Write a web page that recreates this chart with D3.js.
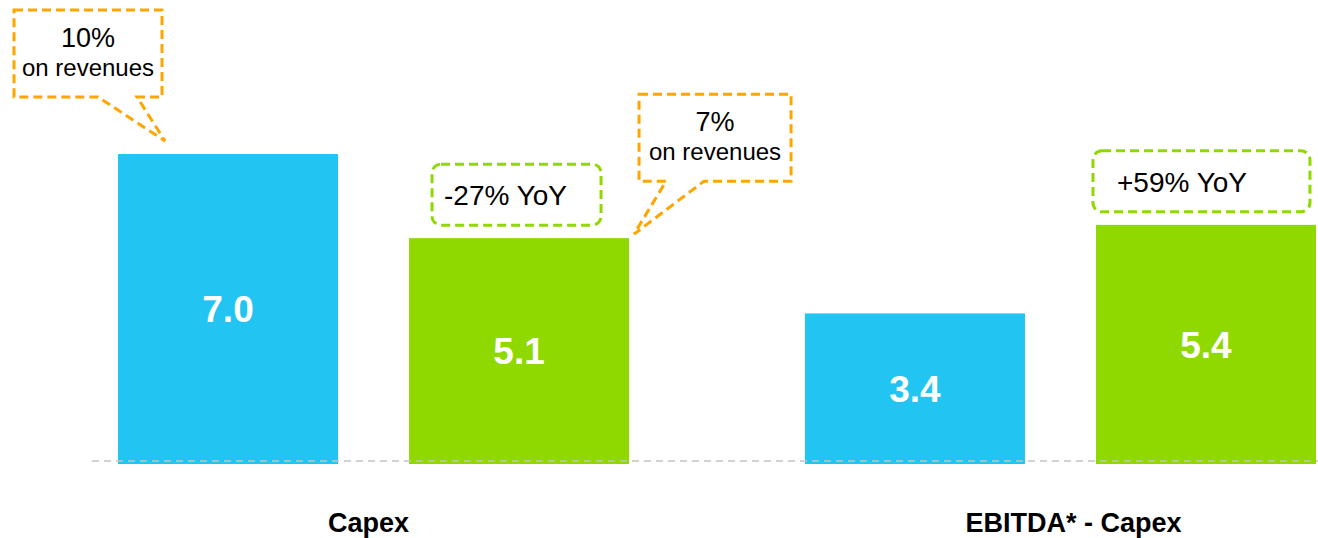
<!DOCTYPE html>
<html>
<head>
<meta charset="utf-8">
<script src="https://cdn.jsdelivr.net/npm/d3@7"></script>
<style>
  body { margin: 0; background: #fff; }
  text { font-family: "Liberation Sans", Arial, sans-serif; }
</style>
</head>
<body>
<div class="myBox"></div>
<script>
   var width = 1318;
   var height = 538;

   // data
   var categories = ["Capex", "EBITDA* - Capex"];
   var series = ["prev", "curr"];
   var prevValues = [7.0, 3.4];
   var currValues = [5.1, 5.4];
   var revenueShare = [["10%", "on revenues"], ["7%", "on revenues"]];
   var yoyLabels = ["-27% YoY", "+59% YoY"];

   var colors = { prev: "#22c4f2", curr: "#8fd900" };
   var orange = "#ffa500";

   var svg = d3.select(".myBox")
     .append("svg")
     .attr("width", width)
     .attr("height", height);

   var x0 = d3.scaleBand()
     .domain(categories)
     .range([118, 1316])
     .paddingInner(0.256);

   var x1 = d3.scaleBand()
     .domain(series)
     .range([0, x0.bandwidth()])
     .paddingInner(0.244);

   var y = d3.scaleLinear()
     .domain([0, 7])
     .range([464, 154]);

   var bars = [];
   categories.forEach(function(c, i) {
     bars.push({ cat: c, s: "prev", v: prevValues[i], i: i });
     bars.push({ cat: c, s: "curr", v: currValues[i], i: i });
   });
   function bx(d) { return x0(d.cat) + x1(d.s); }

   svg.selectAll("rect.bar")
     .data(bars)
     .enter().append("rect")
       .attr("class", "bar")
       .attr("x", bx)
       .attr("y", function(d) { return y(d.v); })
       .attr("width", x1.bandwidth())
       .attr("height", function(d) { return y(0) - y(d.v); })
       .style("fill", function(d) { return colors[d.s]; });

   // dashed baseline
   svg.append("line")
     .attr("x1", 92).attr("x2", width)
     .attr("y1", y(0) - 3).attr("y2", y(0) - 3)
     .style("stroke", "#c4c4c4")
     .style("stroke-width", 1.5)
     .style("stroke-dasharray", "7,5");

   svg.selectAll("text.val")
     .data(bars)
     .enter().append("text")
       .attr("class", "val")
       .attr("x", function(d) { return bx(d) + x1.bandwidth() / 2; })
       .attr("y", function(d) { return (y(d.v) + y(0)) / 2; })
       .attr("dy", "0.36em")
       .attr("text-anchor", "middle")
       .style("fill", "#fff")
       .style("font-weight", "bold")
       .style("font-size", "37px")
       .text(function(d) { return d.v.toFixed(1); });

   svg.selectAll("text.cat")
     .data(categories)
     .enter().append("text")
       .attr("class", "cat")
       .attr("x", function(d, i) { return x0(d) + x0.bandwidth() / 2 + (i === 0 ? -5 : 13); })
       .attr("y", 532)
       .attr("text-anchor", "middle")
       .style("font-weight", "bold")
       .style("font-size", "27px")
       .text(function(d) { return d; });

   // orange "on revenues" callouts on capex bars
   var capexBars = bars.filter(function(d) { return d.cat === categories[0]; });
   var callouts = [
     { bar: capexBars[0], lines: revenueShare[0], box: [-104, -144, 148, 87], tipDx: 47, tipDy: -13, base: [-20, 19] },
     { bar: capexBars[1], lines: revenueShare[1], box: [230, -144, 152, 87], tipDx: 225, tipDy: -4, base: [257, 295] }
   ];
   callouts.forEach(function(c) {
     var x = bx(c.bar), top = y(c.bar.v);
     var bl = x + c.box[0], bt = top + c.box[1], bw = c.box[2], bh = c.box[3];
     var tip = [x + c.tipDx, top + c.tipDy];
     var p = d3.path();
     p.moveTo(bl, bt);
     p.lineTo(bl + bw, bt);
     p.lineTo(bl + bw, bt + bh);
     p.lineTo(x + Math.max(c.base[0], c.base[1]), bt + bh);
     p.lineTo(tip[0], tip[1]);
     p.lineTo(x + Math.min(c.base[0], c.base[1]), bt + bh);
     p.lineTo(bl, bt + bh);
     p.closePath();
     svg.append("path")
       .attr("d", p.toString())
       .style("fill", "#fff")
       .style("stroke", orange)
       .style("stroke-width", 3)
       .style("stroke-dasharray", "9,5");
     svg.append("text")
       .attr("x", bl + bw / 2).attr("y", bt + 37)
       .attr("text-anchor", "middle")
       .style("font-size", "27px")
       .text(c.lines[0]);
     svg.append("text")
       .attr("x", bl + bw / 2).attr("y", bt + 66)
       .attr("text-anchor", "middle")
       .style("font-size", "24px")
       .text(c.lines[1]);
   });

   // green YoY boxes above current bars
   var currBars = bars.filter(function(d) { return d.s === "curr"; });
   var yoyBox = [[23, -74, 169, 61], [-3, -74, 217, 61]];
   currBars.forEach(function(d, i) {
     var x = bx(d), top = y(d.v);
     svg.append("rect")
       .attr("x", x + yoyBox[i][0]).attr("y", top + yoyBox[i][1])
       .attr("width", yoyBox[i][2]).attr("height", yoyBox[i][3])
       .attr("rx", 9).attr("ry", 9)
       .style("fill", "#fff")
       .style("stroke", colors.curr)
       .style("stroke-width", 3)
       .style("stroke-dasharray", "9,5");
     svg.append("text")
       .attr("x", x + yoyBox[i][0] + 12 + (i === 1 ? 12 : 0))
       .attr("y", top + yoyBox[i][1] + yoyBox[i][3] / 2 + 1)
       .attr("dy", "0.35em")
       .style("font-size", "28px")
       .text(yoyLabels[i]);
   });
</script>
</body>
</html>
